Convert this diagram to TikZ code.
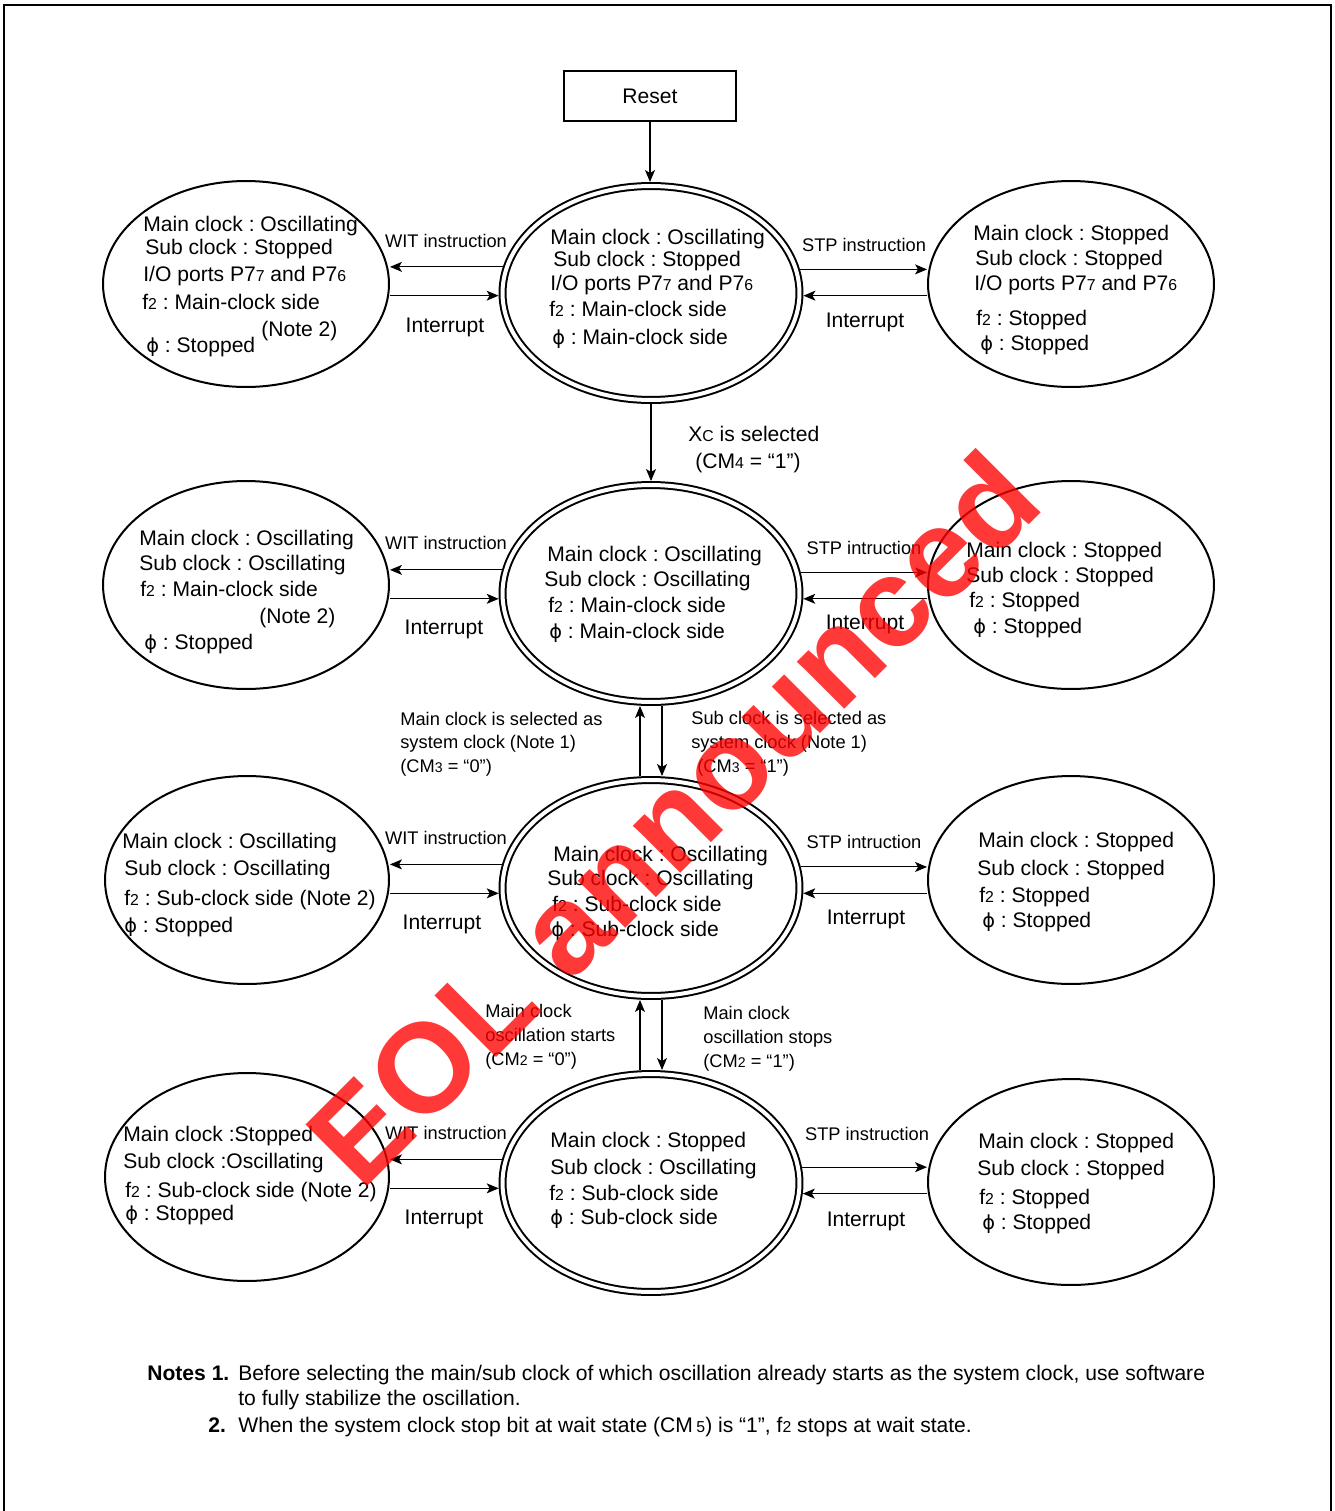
\documentclass[tikz,border=0pt]{standalone}
\usepackage{fontspec}
\setmainfont{Liberation Sans}
\newfontfamily\phifont{DejaVu Sans}
\usetikzlibrary{positioning,arrows.meta,shapes.geometric}
\newcommand{\sm}[1]{{\fontsize{9}{9}\selectfont #1}}
\newcommand{\ssm}[1]{{\fontsize{8}{8}\selectfont #1}}
\newcommand{\ph}{{\phifont\fontsize{11}{11}\selectfont ϕ}}
\frenchspacing

\begin{document}
\begin{tikzpicture}[
  x=0.02cm, y=-0.02cm, >={Stealth[length=0.24cm,width=0.2cm,inset=0.06cm]},
  ell/.style={draw, ellipse, line width=0.04cm, inner sep=0pt, minimum width=5.72cm},
  dbl/.style={draw, ellipse, line width=0.04cm, double, double distance=0.08cm, inner sep=0pt, outer sep=0.08cm, minimum width=5.94cm},
  txt/.style={anchor=base west, inner sep=0pt, font=\fontsize{12}{14}\selectfont},
  mid/.style={anchor=base, inner sep=0pt, font=\fontsize{12}{14}\selectfont},
  lbl/.style={anchor=base, inner sep=0pt, font=\fontsize{10.4}{12}\selectfont},
  cond/.style={anchor=base west, inner sep=0pt, font=\fontsize{10.4}{12}\selectfont},
  link/.style={->, line width=0.6pt},
  wm/.style={text=red, text opacity=0.78, inner sep=0pt, font=\fontsize{72}{72}\selectfont\bfseries},
]
\useasboundingbox (0,0) rectangle (1335,1511);
\draw[line width=0.04cm] (4,1511) -- (4,5) -- (1331,5) -- (1331,1511);

% reset and states
\node[draw, line width=0.04cm, minimum width=3.44cm, minimum height=1cm, inner sep=0pt, font=\fontsize{12}{14}\selectfont] (reset) at (650,96) {Reset};

\node[ell, minimum height=4.12cm] (l1) at (246,284) {};
\node[dbl, minimum height=4.28cm] (c1) at (651,293) {};
\node[ell, minimum height=4.12cm] (r1) at (1071,284) {};

\node[ell, minimum height=4.16cm] (l2) at (246,585) {};
\node[dbl, minimum height=4.34cm] (c2) at (651,593.5) {};
\node[ell, minimum height=4.16cm] (r2) at (1071,585) {};

\node[ell, minimum width=5.68cm, minimum height=4.16cm] (l3) at (247,880) {};
\node[dbl, minimum height=4.32cm] (c3) at (651,888) {};
\node[ell, minimum height=4.16cm] (r3) at (1071,880) {};

\node[ell, minimum width=5.68cm, minimum height=4.16cm] (l4) at (247,1177) {};
\node[dbl, minimum height=4.36cm] (c4) at (651,1183) {};
\node[ell, minimum height=4.12cm] (r4) at (1071,1182) {};

% row 1 texts
\node[txt] (l1a) at (143,231) {Main clock : Oscillating};
\node[txt] (l1b) at (145,254) {Sub clock : Stopped};
\node[txt] (l1c) at (143,281) {I/O ports P7\sm7 and P7\sm6};
\node[txt] (l1d) at (142,309) {f\sm2 : Main-clock side};
\node[txt] (l1e) at (261,336) {(Note 2)};
\node[txt] (l1f) at (146,352) {\ph{} : Stopped};
\node[txt] (c1a) at (550,244) {Main clock : Oscillating};
\node[txt] (c1b) at (553,266) {Sub clock : Stopped};
\node[txt] (c1c) at (550,290) {I/O ports P7\sm7 and P7\sm6};
\node[txt] (c1d) at (549,316) {f\sm2 : Main-clock side};
\node[txt] (c1e) at (552,344) {\ph{} : Main-clock side};
\node[txt] (r1a) at (973,240) {Main clock : Stopped};
\node[txt] (r1b) at (975,265) {Sub clock : Stopped};
\node[txt] (r1c) at (974,290) {I/O ports P7\sm7 and P7\sm6};
\node[txt] (r1d) at (976,325) {f\sm2 : Stopped};
\node[txt] (r1e) at (980,350) {\ph{} : Stopped};

% row 2 texts
\node[txt] (l2a) at (139,545) {Main clock : Oscillating};
\node[txt] (l2b) at (139,570) {Sub clock : Oscillating};
\node[txt] (l2c) at (140,596) {f\sm2 : Main-clock side};
\node[txt] (l2d) at (259,623) {(Note 2)};
\node[txt] (l2e) at (144,649) {\ph{} : Stopped};
\node[txt] (c2a) at (547,561) {Main clock : Oscillating};
\node[txt] (c2b) at (544,586) {Sub clock : Oscillating};
\node[txt] (c2c) at (548,612) {f\sm2 : Main-clock side};
\node[txt] (c2d) at (549,638) {\ph{} : Main-clock side};
\node[txt] (r2a) at (966,557) {Main clock : Stopped};
\node[txt] (r2b) at (966,582) {Sub clock : Stopped};
\node[txt] (r2c) at (969,607) {f\sm2 : Stopped};
\node[txt] (r2d) at (973,633) {\ph{} : Stopped};

% row 3 texts
\node[txt] (l3a) at (122,848) {Main clock : Oscillating};
\node[txt] (l3b) at (124,875) {Sub clock : Oscillating};
\node[txt] (l3c) at (124,905) {f\sm2 : Sub-clock side (Note 2)};
\node[txt] (l3d) at (124,932) {\ph{} : Stopped};
\node[txt] (c3a) at (553,861) {Main clock : Oscillating};
\node[txt] (c3b) at (547,885) {Sub clock : Oscillating};
\node[txt] (c3c) at (552,911) {f\sm2 : Sub-clock side};
\node[txt] (c3d) at (551,936) {\ph{} : Sub-clock side};
\node[txt] (r3a) at (978,847) {Main clock : Stopped};
\node[txt] (r3b) at (977,875) {Sub clock : Stopped};
\node[txt] (r3c) at (979,902) {f\sm2 : Stopped};
\node[txt] (r3d) at (982,927) {\ph{} : Stopped};

% row 4 texts
\node[txt] (l4a) at (123,1141) {Main clock :Stopped};
\node[txt] (l4b) at (123,1168) {Sub clock :Oscillating};
\node[txt] (l4c) at (125,1197) {f\sm2 : Sub-clock side (Note 2)};
\node[txt] (l4d) at (125,1220) {\ph{} : Stopped};
\node[txt] (c4a) at (550,1147) {Main clock : Stopped};
\node[txt] (c4b) at (550,1174) {Sub clock : Oscillating};
\node[txt] (c4c) at (549,1200) {f\sm2 : Sub-clock side};
\node[txt] (c4d) at (550,1224) {\ph{} : Sub-clock side};
\node[txt] (r4a) at (978,1148) {Main clock : Stopped};
\node[txt] (r4b) at (977,1175) {Sub clock : Stopped};
\node[txt] (r4c) at (979,1204) {f\sm2 : Stopped};
\node[txt] (r4d) at (982,1229) {\ph{} : Stopped};

% transitions
\draw[link] (reset) -- (reset |- c1.north);
\draw[link] (c1.south) -- (c2.north);
\draw[link] ([xshift=-0.22cm]c3.north) -- ([xshift=-0.22cm]c2.south);
\draw[link] ([xshift=0.22cm]c2.south) -- ([xshift=0.22cm]c3.north);
\draw[link] ([xshift=-0.22cm]c4.north) -- ([xshift=-0.22cm]c3.south);
\draw[link] ([xshift=0.22cm]c3.south) -- ([xshift=0.22cm]c4.north);

\draw[link] (c1.170.45) -- (l1.east |- c1.170.45);
\draw[link] (l1.east |- c1.181.5) -- (c1.181.5);
\draw[link] (c1.9.95) -- (r1.west |- c1.9.95);
\draw[link] (r1.west |- c1.-1.5) -- (c1.-1.5);

\draw[link] (c2.171.05) -- (l2.east |- c2.171.05);
\draw[link] (l2.east |- c2.182.45) -- (c2.182.45);
\draw[link] (c2.8.96) -- (r2.west |- c2.8.96);
\draw[link] (r2.west |- c2.-2.45) -- (c2.-2.45);

\draw[link] (c3.171.63) -- (l3.east |- c3.171.63);
\draw[link] (l3.east |- c3.182.26) -- (c3.182.26);
\draw[link] (c3.8.37) -- (r3.west |- c3.8.37);
\draw[link] (r3.west |- c3.-2.26) -- (c3.-2.26);

\draw[link] (c4.171.24) -- (l4.east |- c4.171.24);
\draw[link] (l4.east |- c4.182.26) -- (c4.182.26);
\draw[link] (c4.6.82) -- (r4.west |- c4.6.82);
\draw[link] (r4.west |- c4.-4.52) -- (c4.-4.52);

% transition labels
\node[lbl] (w1) at (446,247.5) {WIT instruction};
\node[mid] (i1) at (445,332) {Interrupt};
\node[lbl] (s1) at (864,251.5) {STP instruction};
\node[mid] (j1) at (865,327) {Interrupt};
\node[txt] (xc1) at (688,441) {X\sm{C} is selected};
\node[txt] (xc2) at (695,468) {(CM\sm4 = “1”)};

\node[lbl] (w2) at (446,549.5) {WIT instruction};
\node[mid] (i2) at (444,634) {Interrupt};
\node[lbl] (s2) at (864,554.5) {STP intruction};
\node[mid] (j2) at (865,629) {Interrupt};
\node[cond] (m1) at (400,725.5) {Main clock is selected as};
\node[cond] (m2) at (400,748.5) {system clock (Note 1)};
\node[cond] (m3) at (400,772.5) {(CM\ssm3 = “0”)};
\node[cond] (u1) at (691,724.5) {Sub clock is selected as};
\node[cond] (u2) at (691,748.5) {system clock (Note 1)};
\node[cond] (u3) at (697,772.5) {(CM\ssm3 = “1”)};

\node[lbl] (w3) at (446,844.5) {WIT instruction};
\node[mid] (i3) at (442,929) {Interrupt};
\node[lbl] (s3) at (864,848.5) {STP intruction};
\node[mid] (j3) at (866,924) {Interrupt};
\node[cond] (o1) at (485,1017.5) {Main clock};
\node[cond] (o2) at (485,1041.5) {oscillation starts};
\node[cond] (o3) at (485,1065.5) {(CM\ssm2 = “0”)};
\node[cond] (p1) at (703,1019.5) {Main clock};
\node[cond] (p2) at (703,1043.5) {oscillation stops};
\node[cond] (p3) at (703,1067.5) {(CM\ssm2 = “1”)};

\node[lbl] (w4) at (446,1139.5) {WIT instruction};
\node[mid] (i4) at (444,1224) {Interrupt};
\node[lbl] (s4) at (867,1140.5) {STP instruction};
\node[mid] (j4) at (866,1226) {Interrupt};

% notes
\node[txt, font=\fontsize{12}{14}\selectfont\bfseries] (n1) at (147,1380) {Notes 1.};
\node[txt] (n1a) at (238,1380) {Before selecting the main/sub clock of which oscillation already starts as the system clock, use software};
\node[txt] (n1b) at (238,1405) {to fully stabilize the oscillation.};
\node[txt, font=\fontsize{12}{14}\selectfont\bfseries] (n2) at (208,1432) {2.};
\node[txt] (n2a) at (238,1432) {When the system clock stop bit at wait state (CM\,\sm5) is “1”, f\sm2 stops at wait state.};

% stamp
\node[wm, rotate=45] (eol) at (672,818) {EOL announced};
\end{tikzpicture}
\end{document}
